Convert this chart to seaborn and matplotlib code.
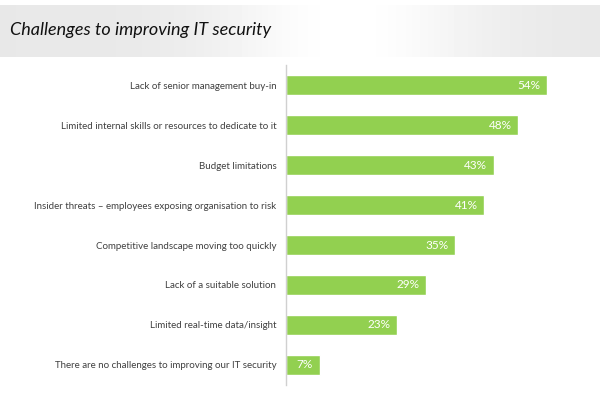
import numpy as np
import pandas as pd
import seaborn as sns
import matplotlib.pyplot as plt

# Data
challenges = [
    "Lack of senior management buy-in",
    "Limited internal skills or resources to dedicate to it",
    "Budget limitations",
    "Insider threats \u2013 employees exposing organisation to risk",
    "Competitive landscape moving too quickly",
    "Lack of a suitable solution",
    "Limited real-time data/insight",
    "There are no challenges to improving our IT security",
]
percent = [54, 48, 43, 41, 35, 29, 23, 7]

df = pd.DataFrame({"Challenge": challenges, "Percent": percent})

sns.set_style("white")
plt.rcParams["font.family"] = ["Lato", "DejaVu Sans"]

fig = plt.figure(figsize=(6, 3.93), dpi=100)

# title band with soft gray gradient
band = fig.add_axes([0, 1 - 57 / 393, 1, 52 / 393])
x = np.linspace(0, 1, 300)
grad = 0.91 + 0.09 * np.exp(-((x - 0.58) / 0.22) ** 2)
grad = np.minimum(grad, 1.0)
band.imshow(np.tile(grad, (2, 1)), cmap="gray", vmin=0, vmax=1, aspect="auto",
            extent=[0, 1, 0, 1])
band.set_axis_off()
fig.text(10 / 600, 1 - 30 / 393, "Challenges to improving IT security",
         fontsize=13, style="italic", color="#111111", va="center", ha="left")

ax = fig.add_axes([286 / 600, 8 / 393, 304 / 600, 320 / 393])
sns.barplot(data=df, x="Percent", y="Challenge", color="#92D050", width=0.5,
            saturation=1, ax=ax)
ax.set_xlim(0, 62.8)
ax.set_ylim(7.5, -0.5)
ax.set_xlabel("")
ax.set_ylabel("")
ax.set_xticks([])
ax.tick_params(axis="y", length=0, pad=7, labelsize=7, labelcolor="#404040")
for s in ["top", "right", "bottom"]:
    ax.spines[s].set_visible(False)
ax.spines["left"].set_color("#d0d0d0")
ax.spines["left"].set_linewidth(1)

for i, v in enumerate(percent):
    ax.text(v - 1.4, i, f"{v}%", color="white", fontsize=8.5,
            ha="right", va="center")

fig.savefig("out.png", dpi=100)
